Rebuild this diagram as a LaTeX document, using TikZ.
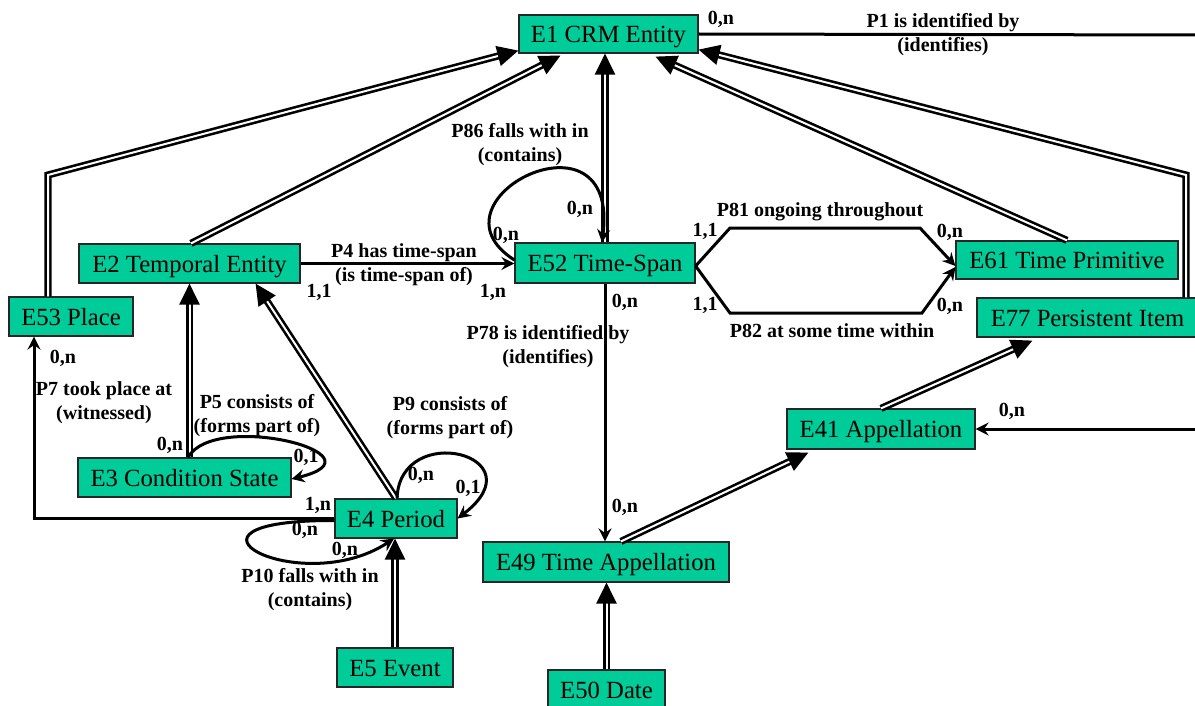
\documentclass[tikz,border=0pt]{standalone}
\usepackage{fontspec}
\setmainfont{Liberation Serif}
\usetikzlibrary{arrows.meta,calc}
\definecolor{boxgreen}{RGB}{0,204,153}
\begin{document}
\begin{tikzpicture}[x=1pt,y=-1pt,
  box/.style={draw=black!85, line width=1.2pt, fill=boxgreen, inner sep=0pt,
    text height=22pt, text depth=5pt, font=\fontsize{24.7}{28}\selectfont},
  lbl/.style={font=\fontsize{20}{24}\selectfont\bfseries, inner sep=0pt, align=center},
  isa/.style={draw=black, double=white, double distance=2pt, line width=2.6pt,
    -{Triangle[length=21pt,width=20pt]}},
  prop/.style={draw=black, line width=3pt, -{Stealth[length=13pt,width=13pt,inset=4.5pt]}},
  plain/.style={draw=black, line width=3pt}]
\useasboundingbox (0,0) rectangle (1195,706);
\fill[white] (0,0) rectangle (1195,706);
% nodes
\node[box, minimum width=179pt, minimum height=38pt] (e1) at (608.5,34) {E1 CRM Entity};
\node[box, minimum width=221pt, minimum height=39pt] (e2) at (189.5,263.5) {E2 Temporal Entity};
\node[box, minimum width=180pt, minimum height=40pt] (e52) at (605,263) {E52 Time-Span};
\node[box, minimum width=222pt, minimum height=38pt] (e61) at (1067,260) {E61 Time Primitive};
\node[box, minimum width=221pt, minimum height=39pt] (e77) at (1087.5,317.5) {E77 Persistent Item};
\node[box, minimum width=124pt, minimum height=39pt] (e53) at (71,316.5) {E53 Place};
\node[box, minimum width=213pt, minimum height=39pt] (e3) at (184.5,477.5) {E3 Condition State};
\node[box, minimum width=122pt, minimum height=39pt] (e4) at (396,518.5) {E4 Period};
\node[box, minimum width=116pt, minimum height=39pt] (e5) at (395,667.5) {E5 Event};
\node[box, minimum width=246pt, minimum height=40pt] (e49) at (606,562) {E49 Time Appellation};
\node[box, minimum width=117pt, minimum height=40pt] (e50) at (606.5,690) {E50 Date};
\node[box, minimum width=188pt, minimum height=40pt] (e41) at (881,429) {E41 Appellation};
% helper coordinates
\coordinate (c53) at (48,175);
\coordinate (c77) at (1186,175);
\coordinate (c1) at (1198,35);
\coordinate (c41) at (1198,429);
\coordinate (c7) at (34,518.5);
\coordinate (p81a) at (730,228);
\coordinate (p81b) at (920,228);
\coordinate (p82a) at (730,313);
\coordinate (p82b) at (922,313);
% is-a links
\draw[isa] ([xshift=-23pt]e53.north) -- (c53) -- ([yshift=3pt]e1.south west);
\draw[isa] ([xshift=1.5pt]e2.north) -- ([xshift=-48pt,yshift=-2pt]e1.south);
\draw[isa] (e52.north) -- (e52.north |- e1.south);
\draw[isa] (e61.north) -- ([xshift=47pt,yshift=-3pt]e1.south);
\draw[isa] (c77 |- e77.north) -- (c77) -- ([yshift=4pt]e1.south east);
\draw[isa] (e2.south |- e3.north) -- (e2.south);
\draw[isa] (e4.north) -- ([xshift=-45pt]e2.south east);
\draw[isa] (e5.north) -- (e5.north |- e4.south);
\draw[isa] (e50.north) -- (e50.north |- e49.south);
\draw[isa] ([xshift=15pt]e49.north) -- ([xshift=22pt,yshift=-3pt]e41.south west);
\draw[isa] (e41.north) -- ([xshift=56pt,yshift=-3pt]e77.south west);
% properties
\draw[plain] (e1.east) -- (c1);
\draw[prop] (e2.east) -- (e2.east -| e52.west);
\draw[prop] (e52.south) -- (e52.south |- e49.north);
\draw[prop] (c41) -- (e41.east);
\draw[prop] (e4.west) -- (c7) -- (c7 |- e53.south);
\draw[prop] ([yshift=-3pt]e52.east) -- (p81a) -- (p81b) -- ([yshift=-6pt]e61.west);
\draw[prop] ([yshift=-3pt]e52.east) -- (p82a) -- (p82b) -- ([yshift=-7pt]e61.west);
\draw[prop] ([yshift=3pt]e52.west) .. controls (420,200) and (620,100) .. ([xshift=-3pt]e52.north);
\draw[prop] ([xshift=3.5pt]e3.north) .. controls (215,410) and (390,455) .. ([yshift=-1.5pt]e3.east);
\draw[prop] ([xshift=1pt]e4.north) .. controls (400,420) and (540,455) .. (e4.east);
\draw[prop] ([yshift=-2pt]e4.west) .. controls (150,520) and (300,600) .. ([xshift=-2pt]e4.south);
% labels
\node[lbl] (l1c) at (721,19) {0,n};
\node[lbl] (l1) at (943,35) {P1 is identified by\\(identifies)};
\node[lbl] (l86) at (520,145) {P86 falls with in\\(contains)};
\node[lbl] (l86a) at (506,235) {0,n};
\node[lbl] (l86b) at (580,209) {0,n};
\node[lbl] (l4) at (404,265) {P4 has time-span\\(is time-span of)};
\node[lbl] (l4a) at (319,292) {1,1};
\node[lbl] (l4b) at (493,292) {1,n};
\node[lbl] (l78a) at (625,302) {0,n};
\node[lbl] (l78) at (548,347) {P78 is identified by\\(identifies)};
\node[lbl] (l78b) at (625,507) {0,n};
\node[lbl] (l81) at (820,212) {P81 ongoing throughout};
\node[lbl] (l81a) at (705,231) {1,1};
\node[lbl] (l81b) at (950,232) {0,n};
\node[lbl] (l82a) at (705,305) {1,1};
\node[lbl] (l82b) at (950,306) {0,n};
\node[lbl] (l82) at (832,331) {P82 at some time within};
\node[lbl] (l41) at (1012,411) {0,n};
\node[lbl] (l7a) at (63,358) {0,n};
\node[lbl] (l7) at (104,403) {P7 took place at\\(witnessed)};
\node[lbl] (l7b) at (318,505) {1,n};
\node[lbl] (l5) at (257,416) {P5 consists of\\(forms part of)};
\node[lbl] (l5a) at (170,445) {0,n};
\node[lbl] (l5b) at (306,457) {0,1};
\node[lbl] (l9) at (450,418) {P9 consists of\\(forms part of)};
\node[lbl] (l9a) at (421,475) {0,n};
\node[lbl] (l9b) at (468,488) {0,1};
\node[lbl] (l10a) at (305,530) {0,n};
\node[lbl] (l10b) at (345,550) {0,n};
\node[lbl] (l10) at (310,590) {P10 falls with in\\(contains)};
\end{tikzpicture}
\end{document}
